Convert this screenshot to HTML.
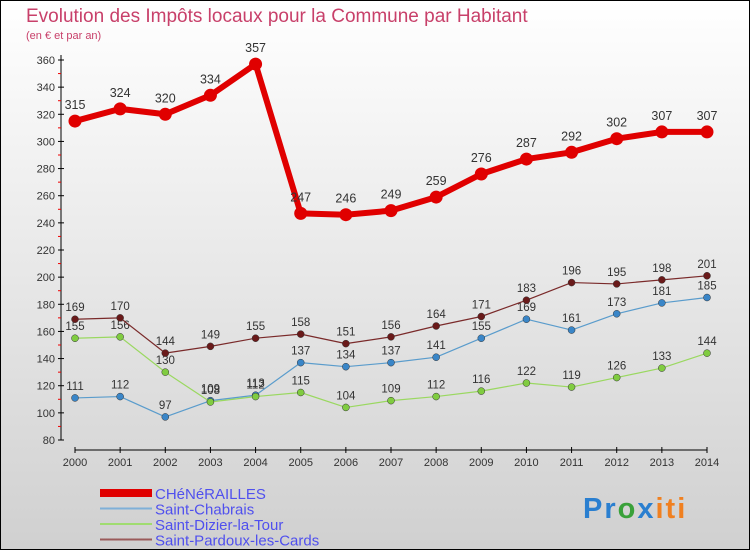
<!DOCTYPE html>
<html><head><meta charset="utf-8"><style>
body{margin:0;width:750px;height:550px;overflow:hidden}
#c{position:absolute;left:0;top:0;width:748px;height:548px;border:1px solid #000;background:linear-gradient(#ffffff,#d0d0d0)}
svg{position:absolute;left:0;top:0;font-family:"Liberation Sans",sans-serif}
</style></head><body>
<div id="c"></div>
<svg id="s" width="750" height="550">
<text x="26" y="22" font-size="19" fill="#c8406a">Evolution des Impôts locaux pour la Commune par Habitant</text>
<text x="26" y="39" font-size="11" fill="#c8406a">(en € et par an)</text>
<text x="583" y="518" font-size="29" font-weight="bold" letter-spacing="2"><tspan fill="#2a7fd0">Pr</tspan><tspan fill="#3aa13a">o</tspan><tspan fill="#2a7fd0">x</tspan><tspan fill="#f08020">iti</tspan></text>
</svg>
<script>
const years=[2000,2001,2002,2003,2004,2005,2006,2007,2008,2009,2010,2011,2012,2013,2014];
const yTicks=[80,100,120,140,160,180,200,220,240,260,280,300,320,340,360];
const chenerailles=[315,324,320,334,357,247,246,249,259,276,287,292,302,307,307];
const chabrais=[111,112,97,109,113,137,134,137,141,155,169,161,173,181,185];
const dizier=[155,156,130,108,112,115,104,109,112,116,122,119,126,133,144];
const pardoux=[169,170,144,149,155,158,151,156,164,171,183,196,195,198,201];
const names=["CHéNéRAILLES","Saint-Chabrais","Saint-Dizier-la-Tour","Saint-Pardoux-les-Cards"];
const NS="http://www.w3.org/2000/svg";
const s=document.getElementById('s');
const X=i=>75+i*(632/14);
const Y=v=>440-(v-80)*(380/280);
function mk(t,a,p){const e=document.createElementNS(NS,t);for(const k in a)e.setAttribute(k,a[k]);(p||s).appendChild(e);return e;}
let ax=mk('line',{x1:61,y1:55,x2:61,y2:440,stroke:'#000'});


let xx=mk('line',{x1:75,y1:450,x2:707,y2:450,stroke:'#000'});


yTicks.forEach(v=>{
 mk('line',{x1:58,y1:Y(v),x2:64,y2:Y(v),stroke:'#000'});
 if(v<360)mk('line',{x1:58,y1:Y(v+10),x2:61,y2:Y(v+10),stroke:'#e00'});
 const t=mk('text',{x:55,y:Y(v)+4,'font-size':11,'text-anchor':'end',fill:'#333'});t.textContent=v;
 
 
});
years.forEach((y,i)=>{
 mk('line',{x1:X(i),y1:447,x2:X(i),y2:453,stroke:'#000'});
 const t=mk('text',{x:X(i),y:466,'font-size':11,'text-anchor':'middle',fill:'#333'});t.textContent=y;
 
 
});
function series(data,col,dot,w,r,name,fs,big){
 const g=mk('g',{});
 
 
 mk('polyline',{points:data.map((v,i)=>X(i)+','+Y(v)).join(' '),fill:'none',stroke:col,'stroke-width':w,'stroke-linejoin':'round'},g);
 data.forEach((v,i)=>{
  const c=mk('circle',{cx:X(i),cy:Y(v),r:r,fill:dot,stroke:big?'none':'#333','stroke-width':0.5},g);
  
  
  const t=mk('text',{x:X(i),y:Y(v)-(big?12:8),'font-size':fs,'text-anchor':'middle',fill:'#333'},g);t.textContent=v;
 });
}
series(chabrais,'#5a9ccc','#3a86c8',1.2,3.5,'series-saint-chabrais',11.5);
series(dizier,'#9ad860','#80cc40',1.2,3.5,'series-saint-dizier',11.5);
series(pardoux,'#7a2a2a','#6a1a1a',1.2,3.5,'series-saint-pardoux',11.5);
series(chenerailles,'#e00000','#e00000',6,6.5,'series-chenerailles',12.5,true);
const lc=['#e00000','#7fb0d8','#a0dc70','#9a5a5a'],lw=[8,2,2,2];
names.forEach((n,i)=>{
 const y=493+i*15.5;
 const l=mk('line',{x1:100,y1:y,x2:152,y2:y,stroke:lc[i],'stroke-width':lw[i]});
 
 
 const t=mk('text',{x:155,y:y+6,'font-size':15,fill:'#5050ee'});t.textContent=n;
 
 
});
</script>
</body></html>
